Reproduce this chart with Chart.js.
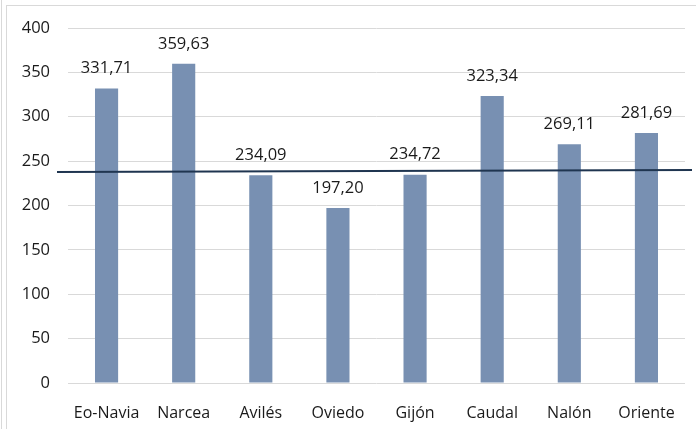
<!DOCTYPE html>
<html>
<head>
<meta charset="utf-8">
<script src="https://cdn.jsdelivr.net/npm/chart.js@4.4.1/dist/chart.umd.min.js"></script>
<style>
  html, body { margin: 0; padding: 0; background: #fff; }
  #wrap { position: relative; width: 696px; height: 429px; }
  #frame { position: absolute; left: 6px; top: 5px; right: 0; bottom: 0; border-left: 1px solid #d9d9d9; border-top: 1px solid #d9d9d9; }
  #edge { position: absolute; left: 1px; top: 0; bottom: 0; border-left: 1px solid #d9d9d9; }
  canvas { position: absolute; left: 0; top: 0; }
</style>
</head>
<body>
<div id="wrap">
  <div id="edge"></div>
  <div id="frame"></div>
  <canvas id="chart" width="696" height="429"></canvas>
</div>
<script>
const comarcas = ['Eo-Navia', 'Narcea', 'Avilés', 'Oviedo', 'Gijón', 'Caudal', 'Nalón', 'Oriente'];
const valores = [331.71, 359.63, 234.09, 197.20, 234.72, 323.34, 269.11, 281.69];
const referencia = 239;
const yTicks = [0, 50, 100, 150, 200, 250, 300, 350, 400];

const fontFamily = '"Open Sans", sans-serif';

// labels like 331,71 above each bar
const valueLabels = {
  id: 'valueLabels',
  afterDatasetsDraw(chart) {
    const ctx = chart.ctx;
    const meta = chart.getDatasetMeta(0);
    ctx.save();
    ctx.font = '16.5px ' + fontFamily;
    ctx.fillStyle = '#1a1a1a';
    ctx.textAlign = 'center';
    ctx.textBaseline = 'middle';
    meta.data.forEach((bar, i) => {
      ctx.fillText(valores[i].toFixed(2).replace('.', ','), bar.x, bar.y - 20);
    });
    ctx.restore();
  }
};

// horizontal reference line, a bit wider than the plot area
const refLine = {
  id: 'refLine',
  afterDatasetsDraw(chart) {
    const ctx = chart.ctx;
    const y = chart.scales.y.getPixelForValue(referencia);
    ctx.save();
    ctx.strokeStyle = '#1f3550';
    ctx.lineWidth = 2;
    ctx.beginPath();
    ctx.moveTo(chart.chartArea.left - 11, y + 1);
    ctx.lineTo(chart.chartArea.right + 7, y - 1);
    ctx.stroke();
    ctx.restore();
  }
};

new Chart(document.getElementById('chart'), {
  type: 'bar',
  data: {
    labels: comarcas,
    datasets: [{
      data: valores,
      backgroundColor: '#7890b2',
      barPercentage: 0.3,
      categoryPercentage: 1
    }]
  },
  options: {
    responsive: false,
    animation: false,
    layout: { padding: { top: 28, right: 11, left: 0, bottom: 0 } },
    plugins: { legend: { display: false }, tooltip: { enabled: false } },
    scales: {
      x: {
        grid: { display: false },
        border: { display: false },
        ticks: { color: '#1a1a1a', font: { family: fontFamily, size: 16 }, padding: 13, maxRotation: 0 },
        afterFit(scale) { scale.height = 46; }
      },
      y: {
        min: 0,
        max: 400,
        afterBuildTicks(scale) { scale.ticks = yTicks.map(v => ({ value: v })); },
        grid: { color: '#d9d9d9', lineWidth: 1, drawTicks: false },
        border: { display: false },
        ticks: { color: '#1a1a1a', font: { family: fontFamily, size: 16.5 }, padding: 18 },
        afterFit(scale) { scale.width = 68; }
      }
    }
  },
  plugins: [valueLabels, refLine]
});
</script>
</body>
</html>
